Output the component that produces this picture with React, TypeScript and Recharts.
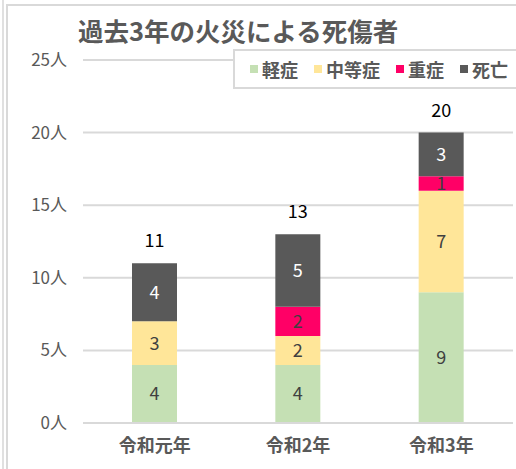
import React from 'react';
import { BarChart, Bar, XAxis, YAxis, CartesianGrid, LabelList } from 'recharts';

// --- Data ---

const years = ['令和元年', '令和2年', '令和3年'];
const minor = [4, 4, 9];      // 軽症
const moderate = [3, 2, 7];   // 中等症
const serious = [0, 2, 1];    // 重症
const deaths = [4, 5, 3];     // 死亡
const yTicks = [0, 5, 10, 15, 20, 25];

const chartData = years.map((year, i) => ({
    year,
    minor: minor[i],
    moderate: moderate[i],
    serious: serious[i],
    deaths: deaths[i],
    total: minor[i] + moderate[i] + serious[i] + deaths[i],
}));

const FONT = '"Noto Sans CJK JP", "Noto Sans", sans-serif';
const GREY = '#595959';

const series = [
    { key: 'minor', name: '軽症', color: '#C5E0B4', text: '#404040' },
    { key: 'moderate', name: '中等症', color: '#FFE699', text: '#404040' },
    { key: 'serious', name: '重症', color: '#FF0066', text: '#404040' },
    { key: 'deaths', name: '死亡', color: '#595959', text: '#ffffff' },
];

// legend drawn as plain html so it doesn't eat into the plot area
const ChartLegend = () => (
    <div
        style={{
            position: 'absolute',
            left: 233,
            top: 49,
            width: 300,
            height: 40,
            border: '2px solid #d9d9d9',
            background: '#fff',
            display: 'flex',
            alignItems: 'center',
            paddingLeft: 15,
            boxSizing: 'border-box',
            fontFamily: FONT,
            fontSize: 18,
            fontWeight: 700,
            color: GREY,
        }}
    >
        {series.map((s) => (
            <div key={s.key} style={{ display: 'flex', alignItems: 'center', marginRight: 16 }}>
                <span style={{ width: 8, height: 8, background: s.color, marginRight: 4, display: 'inline-block' }} />
                <span>{s.name}</span>
            </div>
        ))}
    </div>
);

export default function App() {
    return (
        <div style={{ position: 'absolute', left: 0, top: 0, width: 516, height: 469, background: '#fff', overflow: 'hidden' }}>
            {/* frame lines */}
            <div style={{ position: 'absolute', left: 2, top: 0, width: 2, height: 469, background: '#e0e0e0' }} />
            <div style={{ position: 'absolute', left: 6, top: 4, width: 520, height: 480, border: '2px solid #d9d9d9', boxSizing: 'border-box' }} />
            <div
                style={{
                    position: 'absolute',
                    left: 78,
                    top: 11,
                    fontFamily: FONT,
                    fontSize: 25.5,
                    fontWeight: 700,
                    color: GREY,
                    whiteSpace: 'nowrap',
                }}
            >
                過去3年の火災による死傷者
            </div>
            <div style={{ position: 'absolute', left: 0, top: 0 }}>
                <BarChart
                    width={516}
                    height={469}
                    data={chartData}
                    margin={{ top: 60, right: 3, left: 0, bottom: 16 }}
                    style={{ fontFamily: FONT }}
                >
                    <CartesianGrid vertical={false} stroke="#d9d9d9" strokeWidth={2} />
                    <XAxis
                        dataKey="year"
                        axisLine={{ stroke: '#d9d9d9', strokeWidth: 2 }}
                        tickLine={false}
                        tickMargin={10}
                        height={30}
                        tick={{ fill: GREY, fontSize: 18, fontWeight: 700 }}
                    />
                    <YAxis
                        domain={[0, 25]}
                        ticks={yTicks}
                        width={83}
                        axisLine={false}
                        tickLine={false}
                        tickMargin={10}
                        tick={{ fill: GREY, fontSize: 17 }}
                        tickFormatter={(v) => `${v}人`}
                    />
                    {series.map((s, idx) => (
                        <Bar
                            key={s.key}
                            dataKey={s.key}
                            name={s.name}
                            stackId="a"
                            fill={s.color}
                            barSize={45}
                            isAnimationActive={false}
                        >
                            <LabelList
                                dataKey={s.key}
                                position="center"
                                fill={s.text}
                                fontSize={18}
                                formatter={(v: any) => (v ? v : '')}
                            />
                            {idx === series.length - 1 && (
                                <LabelList dataKey="total" position="top" offset={16} fill="#000" fontSize={18} />
                            )}
                        </Bar>
                    ))}
                </BarChart>
            </div>
            <ChartLegend />
        </div>
    );
}
